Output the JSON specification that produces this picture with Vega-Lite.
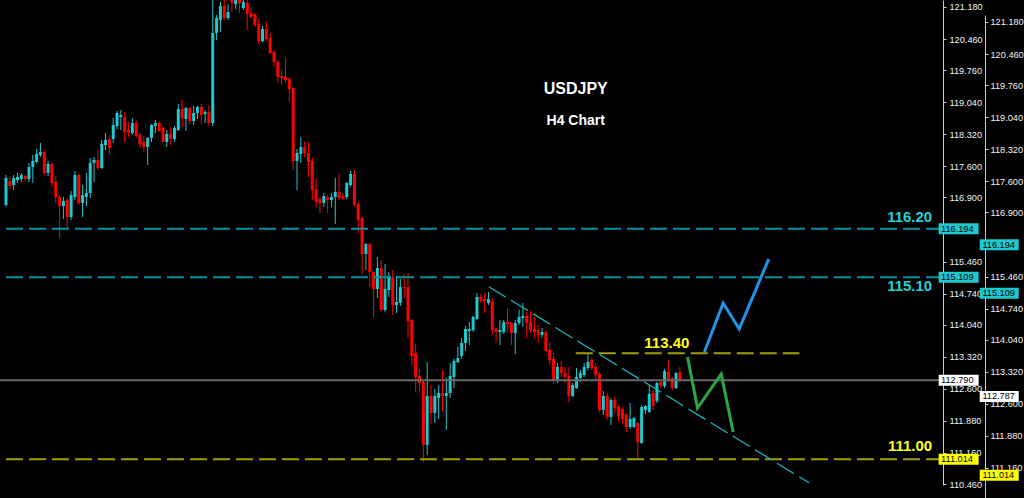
{
"$schema": "https://vega.github.io/schema/vega-lite/v6.json",
"width": 943, "height": 485,
"autosize": {"type": "none"},
"padding": {"left": 0, "top": 0, "right": 81, "bottom": 13},
"background": "#000000",
"config": {"view": {"stroke": null}},
"datasets": {
"candles": [
{"i":0,"o":116.731,"h":117.405,"l":116.686,"c":117.337},
{"i":1,"o":117.270,"h":117.360,"l":117.090,"c":117.157},
{"i":2,"o":117.180,"h":117.405,"l":117.067,"c":117.337},
{"i":3,"o":117.292,"h":117.450,"l":117.225,"c":117.360},
{"i":4,"o":117.315,"h":117.450,"l":117.247,"c":117.405},
{"i":5,"o":117.382,"h":117.405,"l":117.270,"c":117.315},
{"i":6,"o":117.315,"h":117.675,"l":117.247,"c":117.585},
{"i":7,"o":117.585,"h":117.854,"l":117.225,"c":117.720},
{"i":8,"o":117.697,"h":117.989,"l":117.675,"c":117.876},
{"i":9,"o":117.854,"h":118.124,"l":117.809,"c":117.921},
{"i":10,"o":117.921,"h":117.944,"l":117.405,"c":117.450},
{"i":11,"o":117.450,"h":117.720,"l":117.382,"c":117.652},
{"i":12,"o":117.652,"h":117.697,"l":117.135,"c":117.225},
{"i":13,"o":117.247,"h":117.382,"l":116.776,"c":116.910},
{"i":14,"o":116.910,"h":116.955,"l":115.989,"c":116.708},
{"i":15,"o":116.708,"h":116.910,"l":116.416,"c":116.821},
{"i":16,"o":116.843,"h":116.888,"l":116.213,"c":116.461},
{"i":17,"o":116.461,"h":117.045,"l":116.393,"c":116.955},
{"i":18,"o":116.910,"h":117.495,"l":116.843,"c":117.405},
{"i":19,"o":117.405,"h":117.427,"l":116.731,"c":116.776},
{"i":20,"o":116.776,"h":117.180,"l":116.461,"c":116.955},
{"i":21,"o":116.910,"h":117.450,"l":116.708,"c":117.000},
{"i":22,"o":117.000,"h":117.787,"l":116.888,"c":117.675},
{"i":23,"o":117.675,"h":117.809,"l":117.247,"c":117.742},
{"i":24,"o":117.742,"h":117.966,"l":117.517,"c":117.562},
{"i":25,"o":117.562,"h":118.191,"l":117.540,"c":118.101},
{"i":26,"o":118.079,"h":118.349,"l":117.966,"c":118.191},
{"i":27,"o":118.213,"h":118.304,"l":117.854,"c":118.011},
{"i":28,"o":118.214,"h":118.685,"l":118.124,"c":118.528},
{"i":29,"o":118.505,"h":118.843,"l":118.438,"c":118.798},
{"i":30,"o":118.708,"h":118.865,"l":118.416,"c":118.753},
{"i":31,"o":118.708,"h":118.820,"l":118.146,"c":118.371},
{"i":32,"o":118.416,"h":118.595,"l":118.259,"c":118.349},
{"i":33,"o":118.349,"h":118.685,"l":118.304,"c":118.573},
{"i":34,"o":118.573,"h":118.640,"l":118.259,"c":118.281},
{"i":35,"o":118.304,"h":118.349,"l":118.011,"c":118.101},
{"i":36,"o":118.146,"h":118.281,"l":117.921,"c":118.034},
{"i":37,"o":118.034,"h":118.259,"l":117.630,"c":118.236},
{"i":38,"o":118.236,"h":118.550,"l":118.146,"c":118.528},
{"i":39,"o":118.505,"h":118.640,"l":118.349,"c":118.573},
{"i":40,"o":118.573,"h":118.618,"l":118.371,"c":118.394},
{"i":41,"o":118.460,"h":118.505,"l":118.124,"c":118.146},
{"i":42,"o":118.146,"h":118.416,"l":118.034,"c":118.326},
{"i":43,"o":118.326,"h":118.483,"l":118.079,"c":118.214},
{"i":44,"o":118.214,"h":118.505,"l":118.146,"c":118.460},
{"i":45,"o":118.416,"h":119.000,"l":118.394,"c":118.888},
{"i":46,"o":118.888,"h":119.090,"l":118.483,"c":118.685},
{"i":47,"o":118.663,"h":118.933,"l":118.394,"c":118.910},
{"i":48,"o":118.910,"h":118.933,"l":118.550,"c":118.618},
{"i":49,"o":118.618,"h":118.955,"l":118.528,"c":118.798},
{"i":50,"o":118.798,"h":118.955,"l":118.663,"c":118.933},
{"i":51,"o":118.933,"h":119.000,"l":118.550,"c":118.753},
{"i":52,"o":118.775,"h":118.865,"l":118.573,"c":118.820},
{"i":53,"o":118.820,"h":118.978,"l":118.505,"c":118.573},
{"i":54,"o":118.573,"h":121.350,"l":118.505,"c":120.596},
{"i":55,"o":120.596,"h":121.000,"l":120.438,"c":120.932},
{"i":56,"o":120.887,"h":121.292,"l":120.619,"c":121.202},
{"i":57,"o":121.202,"h":121.337,"l":120.887,"c":120.932},
{"i":58,"o":120.932,"h":121.247,"l":120.887,"c":121.067},
{"i":59,"o":121.337,"h":121.450,"l":121.067,"c":121.270},
{"i":60,"o":121.247,"h":121.450,"l":121.135,"c":121.380},
{"i":61,"o":121.380,"h":121.420,"l":121.045,"c":121.270},
{"i":62,"o":121.157,"h":121.380,"l":121.112,"c":121.292},
{"i":63,"o":121.270,"h":121.337,"l":120.663,"c":121.022},
{"i":64,"o":121.045,"h":121.180,"l":120.932,"c":120.955},
{"i":65,"o":121.022,"h":121.045,"l":120.730,"c":120.775},
{"i":66,"o":120.798,"h":120.910,"l":120.348,"c":120.416},
{"i":67,"o":120.416,"h":120.753,"l":120.393,"c":120.685},
{"i":68,"o":120.685,"h":120.843,"l":120.416,"c":120.461},
{"i":69,"o":120.483,"h":120.596,"l":120.123,"c":120.146},
{"i":70,"o":120.168,"h":120.213,"l":119.832,"c":119.944},
{"i":71,"o":119.944,"h":119.989,"l":119.472,"c":119.607},
{"i":72,"o":119.629,"h":119.764,"l":119.427,"c":119.584},
{"i":73,"o":119.607,"h":120.033,"l":119.494,"c":119.539},
{"i":74,"o":119.562,"h":119.607,"l":119.045,"c":119.337},
{"i":75,"o":119.359,"h":119.382,"l":117.517,"c":117.720},
{"i":76,"o":117.720,"h":117.989,"l":117.067,"c":117.899},
{"i":77,"o":117.876,"h":118.259,"l":117.675,"c":118.034},
{"i":78,"o":118.034,"h":118.146,"l":117.809,"c":117.899},
{"i":79,"o":117.899,"h":118.146,"l":117.360,"c":117.697},
{"i":80,"o":117.720,"h":117.787,"l":116.843,"c":117.067},
{"i":81,"o":117.090,"h":117.337,"l":116.686,"c":116.798},
{"i":82,"o":116.865,"h":116.910,"l":116.551,"c":116.776},
{"i":83,"o":116.776,"h":117.000,"l":116.686,"c":116.932},
{"i":84,"o":116.910,"h":116.955,"l":116.551,"c":116.843},
{"i":85,"o":116.843,"h":117.000,"l":116.686,"c":116.910},
{"i":86,"o":116.910,"h":117.337,"l":116.303,"c":117.022},
{"i":87,"o":117.022,"h":117.450,"l":116.843,"c":116.887},
{"i":88,"o":116.932,"h":117.000,"l":116.843,"c":116.865},
{"i":89,"o":116.910,"h":117.247,"l":116.865,"c":117.225},
{"i":90,"o":117.180,"h":117.495,"l":117.135,"c":117.427},
{"i":91,"o":117.427,"h":117.517,"l":116.686,"c":116.731},
{"i":92,"o":116.753,"h":116.798,"l":116.102,"c":116.393},
{"i":93,"o":116.438,"h":116.461,"l":115.180,"c":115.629},
{"i":94,"o":115.629,"h":115.877,"l":115.270,"c":115.854},
{"i":95,"o":115.854,"h":115.877,"l":114.888,"c":115.225},
{"i":96,"o":115.225,"h":115.247,"l":114.214,"c":114.843},
{"i":97,"o":114.843,"h":115.562,"l":114.641,"c":115.314},
{"i":98,"o":115.314,"h":115.494,"l":114.326,"c":114.371},
{"i":99,"o":114.371,"h":115.404,"l":114.326,"c":114.843},
{"i":100,"o":114.820,"h":115.225,"l":114.663,"c":115.135},
{"i":101,"o":115.112,"h":115.270,"l":114.259,"c":114.484},
{"i":102,"o":114.484,"h":115.135,"l":114.304,"c":114.551},
{"i":103,"o":114.529,"h":115.067,"l":114.461,"c":114.888},
{"i":104,"o":114.888,"h":115.180,"l":114.641,"c":114.865},
{"i":105,"o":114.888,"h":115.202,"l":113.741,"c":114.124},
{"i":106,"o":114.146,"h":114.168,"l":113.135,"c":113.337},
{"i":107,"o":113.405,"h":113.607,"l":112.528,"c":112.866},
{"i":108,"o":112.888,"h":113.045,"l":112.551,"c":112.731},
{"i":109,"o":112.753,"h":112.798,"l":110.955,"c":111.338},
{"i":110,"o":111.338,"h":113.202,"l":111.113,"c":112.438},
{"i":111,"o":112.438,"h":112.686,"l":111.809,"c":112.057},
{"i":112,"o":112.057,"h":112.596,"l":111.832,"c":112.438},
{"i":113,"o":112.393,"h":112.686,"l":111.922,"c":112.506},
{"i":114,"o":112.506,"h":113.023,"l":112.079,"c":112.438},
{"i":115,"o":112.438,"h":112.843,"l":111.674,"c":112.506},
{"i":116,"o":112.506,"h":113.180,"l":112.393,"c":112.888},
{"i":117,"o":112.866,"h":113.270,"l":112.618,"c":113.225},
{"i":118,"o":113.202,"h":113.540,"l":113.180,"c":113.292},
{"i":119,"o":113.337,"h":113.741,"l":113.270,"c":113.630},
{"i":120,"o":113.630,"h":114.011,"l":113.450,"c":113.944},
{"i":121,"o":113.899,"h":114.101,"l":113.585,"c":113.944},
{"i":122,"o":113.921,"h":114.236,"l":113.876,"c":114.214},
{"i":123,"o":114.168,"h":114.753,"l":114.146,"c":114.663},
{"i":124,"o":114.663,"h":114.731,"l":114.529,"c":114.573},
{"i":125,"o":114.618,"h":114.753,"l":114.304,"c":114.573},
{"i":126,"o":114.529,"h":114.775,"l":114.484,"c":114.618},
{"i":127,"o":114.573,"h":114.641,"l":113.809,"c":113.921},
{"i":128,"o":113.944,"h":113.966,"l":113.630,"c":113.876},
{"i":129,"o":113.876,"h":114.146,"l":113.585,"c":113.921},
{"i":130,"o":113.876,"h":114.146,"l":113.831,"c":114.101},
{"i":131,"o":114.101,"h":114.416,"l":113.854,"c":114.056},
{"i":132,"o":114.079,"h":114.101,"l":113.585,"c":113.854},
{"i":133,"o":113.854,"h":114.146,"l":113.382,"c":114.079},
{"i":134,"o":114.079,"h":114.371,"l":114.034,"c":114.214},
{"i":135,"o":114.191,"h":114.529,"l":113.989,"c":114.236},
{"i":136,"o":114.236,"h":114.326,"l":113.741,"c":114.079},
{"i":137,"o":114.101,"h":114.349,"l":113.854,"c":113.921},
{"i":138,"o":113.944,"h":114.214,"l":113.741,"c":113.876},
{"i":139,"o":113.921,"h":114.034,"l":113.630,"c":113.809},
{"i":140,"o":113.809,"h":113.966,"l":113.741,"c":113.876},
{"i":141,"o":113.876,"h":113.921,"l":113.427,"c":113.450},
{"i":142,"o":113.472,"h":113.652,"l":113.135,"c":113.247},
{"i":143,"o":113.270,"h":113.405,"l":112.708,"c":112.776},
{"i":144,"o":112.776,"h":113.180,"l":112.731,"c":113.090},
{"i":145,"o":113.090,"h":113.225,"l":112.866,"c":112.955},
{"i":146,"o":112.955,"h":113.090,"l":112.731,"c":112.866},
{"i":147,"o":112.888,"h":113.090,"l":112.303,"c":112.438},
{"i":148,"o":112.438,"h":112.731,"l":112.416,"c":112.686},
{"i":149,"o":112.618,"h":113.068,"l":112.596,"c":112.866},
{"i":150,"o":112.843,"h":113.023,"l":112.753,"c":112.955},
{"i":151,"o":112.910,"h":113.180,"l":112.866,"c":113.090},
{"i":152,"o":113.068,"h":113.405,"l":113.023,"c":113.202},
{"i":153,"o":113.247,"h":113.292,"l":113.023,"c":113.068},
{"i":154,"o":113.090,"h":113.180,"l":112.798,"c":112.910},
{"i":155,"o":112.933,"h":112.978,"l":112.079,"c":112.124},
{"i":156,"o":112.124,"h":112.551,"l":112.012,"c":112.438},
{"i":157,"o":112.438,"h":112.506,"l":111.899,"c":111.967},
{"i":158,"o":111.967,"h":112.393,"l":111.787,"c":112.348},
{"i":159,"o":112.348,"h":112.416,"l":112.057,"c":112.169},
{"i":160,"o":112.191,"h":112.236,"l":111.854,"c":111.989},
{"i":161,"o":112.146,"h":112.191,"l":111.809,"c":111.922},
{"i":162,"o":112.012,"h":112.057,"l":111.629,"c":111.742},
{"i":163,"o":111.742,"h":112.281,"l":111.697,"c":111.922},
{"i":164,"o":111.742,"h":111.967,"l":111.719,"c":111.944},
{"i":165,"o":111.832,"h":111.854,"l":111.014,"c":111.405},
{"i":166,"o":111.383,"h":112.236,"l":111.360,"c":112.191},
{"i":167,"o":112.124,"h":112.236,"l":112.034,"c":112.214},
{"i":168,"o":112.079,"h":112.686,"l":112.057,"c":112.483},
{"i":169,"o":112.506,"h":112.573,"l":112.124,"c":112.214},
{"i":170,"o":112.326,"h":112.753,"l":112.281,"c":112.731},
{"i":171,"o":112.753,"h":112.798,"l":112.618,"c":112.663},
{"i":172,"o":112.663,"h":113.045,"l":112.618,"c":113.000},
{"i":173,"o":112.978,"h":113.247,"l":112.753,"c":112.798},
{"i":174,"o":112.843,"h":112.866,"l":112.573,"c":112.618},
{"i":175,"o":112.618,"h":112.978,"l":112.596,"c":112.955},
{"i":176,"o":112.978,"h":113.090,"l":112.753,"c":112.790}
],
"tags": [
{"price":116.194,"label":"116.194","role":"resistance"},
{"price":115.109,"label":"115.109","role":"resistance"},
{"price":112.790,"label":"112.790","role":"current"},
{"price":111.014,"label":"111.014","role":"support"}
],
"tags2": [
{"price":116.194,"label":"116.194","role":"resistance"},
{"price":115.109,"label":"115.109","role":"resistance"},
{"price":112.787,"label":"112.787","role":"current"},
{"price":111.014,"label":"111.014","role":"support"}
]
},
"resolve": {"axis": {"y": "independent"}},
"layer": [
{
"data": {"name": "candles"},
"mark": {"type": "rule", "clip": true, "strokeWidth": 1},
"encoding": {
"x": {"field": "i", "type": "quantitative", "scale": {"domain": [-0.258, 243.41], "nice": false, "zero": false},
 "axis": {"orient": "bottom", "domainColor": "#c8c8c8", "domainWidth": 1, "ticks": false, "labels": false, "title": null, "grid": false}},
"y": {"field": "l", "type": "quantitative", "scale": {"domain": [110.438, 121.337], "nice": false, "zero": false},
 "axis": {"orient": "right", "values": [121.18,120.46,119.76,119.04,118.32,117.6,116.9,115.46,114.74,114.04,113.32,112.6,111.88,111.16,110.46],
  "format": ".3f", "title": null, "grid": false, "domainColor": "#c8c8c8", "domainWidth": 1, "tickColor": "#c8c8c8", "tickSize": 3,
  "labelColor": "#f2f2f2", "labelFont": "Liberation Sans", "labelFontSize": 9.2, "labelPadding": 3, "labelOverlap": false, "labelBaseline": "middle", "labelFlush": false}},
"y2": {"field": "h"},
"color": {"condition": {"test": "datum.c >= datum.o", "value": "#1ec8cf"}, "value": "#ff0000"}
}
},
{
"data": {"name": "candles"},
"mark": {"type": "bar", "size": 3, "clip": true},
"encoding": {
"x": {"field": "i", "type": "quantitative", "scale": {"domain": [-0.258, 243.41], "nice": false, "zero": false}, "axis": null},
"y": {"field": "o", "type": "quantitative", "scale": {"domain": [110.438, 121.337], "nice": false, "zero": false}, "axis": null},
"y2": {"field": "c"},
"color": {"condition": {"test": "datum.c >= datum.o", "value": "#1ec8cf"}, "value": "#ff0000"}
}
},
{
"data": {"values": [{"price": 116.194}, {"price": 115.109}]},
"mark": {"type": "rule", "color": "#00959e", "strokeWidth": 2, "strokeDash": [17, 6]},
"encoding": {
"y": {"field": "price", "type": "quantitative", "scale": {"domain": [110.438, 121.337], "nice": false, "zero": false}, "axis": null}
}
},
{
"data": {"values": [{"price": 111.014}]},
"mark": {"type": "rule", "color": "#a0a000", "strokeWidth": 2, "strokeDash": [17, 6]},
"encoding": {
"y": {"field": "price", "type": "quantitative", "scale": {"domain": [110.438, 121.337], "nice": false, "zero": false}, "axis": null}
}
},
{
"data": {"values": [{"start": 148.8, "end": 207.2, "price": 113.40}]},
"mark": {"type": "rule", "color": "#a0a000", "strokeWidth": 2, "strokeDash": [17, 6]},
"encoding": {
"x": {"field": "start", "type": "quantitative", "scale": {"domain": [-0.258, 243.41], "nice": false, "zero": false}, "axis": null},
"x2": {"field": "end"},
"y": {"field": "price", "type": "quantitative", "scale": {"domain": [110.438, 121.337], "nice": false, "zero": false}, "axis": null}
}
},
{
"data": {"values": [{"price": 112.79}]},
"mark": {"type": "rule", "color": "#6a6a6a", "strokeWidth": 2},
"encoding": {
"y": {"field": "price", "type": "quantitative", "scale": {"domain": [110.438, 121.337], "nice": false, "zero": false}, "axis": null}
}
},
{
"data": {"values": [{"i": 126.1, "price": 114.894}, {"i": 209.8, "price": 110.483}]},
"mark": {"type": "line", "color": "#1fb8c2", "strokeWidth": 1.2, "strokeDash": [20, 6]},
"encoding": {
"x": {"field": "i", "type": "quantitative", "scale": {"domain": [-0.258, 243.41], "nice": false, "zero": false}, "axis": null},
"y": {"field": "price", "type": "quantitative", "scale": {"domain": [110.438, 121.337], "nice": false, "zero": false}, "axis": null}
}
},
{
"data": {"values": [{"step": 1, "i": 182.4, "price": 113.427}, {"step": 2, "i": 187.3, "price": 114.528}, {"step": 3, "i": 191.5, "price": 113.944}, {"step": 4, "i": 199.2, "price": 115.517}]},
"mark": {"type": "line", "color": "#1e96e6", "strokeWidth": 3},
"encoding": {
"x": {"field": "i", "type": "quantitative", "scale": {"domain": [-0.258, 243.41], "nice": false, "zero": false}, "axis": null},
"y": {"field": "price", "type": "quantitative", "scale": {"domain": [110.438, 121.337], "nice": false, "zero": false}, "axis": null},
"order": {"field": "step"}
}
},
{
"data": {"values": [{"step": 1, "i": 178.0, "price": 113.315}, {"step": 2, "i": 180.6, "price": 112.168}, {"step": 3, "i": 186.8, "price": 112.933}, {"step": 4, "i": 189.9, "price": 111.629}]},
"mark": {"type": "line", "color": "#2aa845", "strokeWidth": 3},
"encoding": {
"x": {"field": "i", "type": "quantitative", "scale": {"domain": [-0.258, 243.41], "nice": false, "zero": false}, "axis": null},
"y": {"field": "price", "type": "quantitative", "scale": {"domain": [110.438, 121.337], "nice": false, "zero": false}, "axis": null},
"order": {"field": "step"}
}
},
{
"data": {"values": [{"label": "116.20", "i": 241.9, "price": 116.461}, {"label": "115.10", "i": 241.9, "price": 114.910}]},
"mark": {"type": "text", "align": "right", "baseline": "middle", "font": "Liberation Sans", "fontWeight": "bold", "fontSize": 15, "color": "#22d0d8"},
"encoding": {
"x": {"field": "i", "type": "quantitative", "scale": {"domain": [-0.258, 243.41], "nice": false, "zero": false}, "axis": null},
"y": {"field": "price", "type": "quantitative", "scale": {"domain": [110.438, 121.337], "nice": false, "zero": false}, "axis": null},
"text": {"field": "label"}
}
},
{
"data": {"values": [{"label": "111.00", "i": 241.9, "price": 111.315}]},
"mark": {"type": "text", "align": "right", "baseline": "middle", "font": "Liberation Sans", "fontWeight": "bold", "fontSize": 15, "color": "#ffff1a"},
"encoding": {
"x": {"field": "i", "type": "quantitative", "scale": {"domain": [-0.258, 243.41], "nice": false, "zero": false}, "axis": null},
"y": {"field": "price", "type": "quantitative", "scale": {"domain": [110.438, 121.337], "nice": false, "zero": false}, "axis": null},
"text": {"field": "label"}
}
},
{
"data": {"values": [{"label": "113.40", "i": 172.6, "price": 113.629}]},
"mark": {"type": "text", "align": "center", "baseline": "middle", "font": "Liberation Sans", "fontWeight": "bold", "fontSize": 15, "color": "#ffff1a"},
"encoding": {
"x": {"field": "i", "type": "quantitative", "scale": {"domain": [-0.258, 243.41], "nice": false, "zero": false}, "axis": null},
"y": {"field": "price", "type": "quantitative", "scale": {"domain": [110.438, 121.337], "nice": false, "zero": false}, "axis": null},
"text": {"field": "label"}
}
},
{
"data": {"values": [{"label": "USDJPY", "i": 148.8, "price": 119.337}]},
"mark": {"type": "text", "align": "center", "baseline": "middle", "font": "Liberation Sans", "fontWeight": "bold", "fontSize": 16, "color": "#ffffff"},
"encoding": {
"x": {"field": "i", "type": "quantitative", "scale": {"domain": [-0.258, 243.41], "nice": false, "zero": false}, "axis": null},
"y": {"field": "price", "type": "quantitative", "scale": {"domain": [110.438, 121.337], "nice": false, "zero": false}, "axis": null},
"text": {"field": "label"}
}
},
{
"data": {"values": [{"label": "H4 Chart", "i": 148.8, "price": 118.618}]},
"mark": {"type": "text", "align": "center", "baseline": "middle", "font": "Liberation Sans", "fontWeight": "bold", "fontSize": 14, "color": "#ffffff"},
"encoding": {
"x": {"field": "i", "type": "quantitative", "scale": {"domain": [-0.258, 243.41], "nice": false, "zero": false}, "axis": null},
"y": {"field": "price", "type": "quantitative", "scale": {"domain": [110.438, 121.337], "nice": false, "zero": false}, "axis": null},
"text": {"field": "label"}
}
},
{
"data": {"name": "tags"},
"mark": {"type": "tick", "orient": "horizontal", "size": 40, "thickness": 11, "clip": false, "opacity": 1},
"encoding": {
"x": {"datum": 248.8, "type": "quantitative", "scale": {"domain": [-0.258, 243.41], "nice": false, "zero": false}, "axis": null},
"y": {"field": "price", "type": "quantitative", "scale": {"domain": [110.438, 121.337], "nice": false, "zero": false}, "axis": null},
"color": {"condition": [{"test": "datum.role === 'resistance'", "value": "#1ec8cf"}, {"test": "datum.role === 'current'", "value": "#ffffff"}], "value": "#ffff00"}
}
},
{
"data": {"name": "tags"},
"mark": {"type": "text", "align": "left", "baseline": "middle", "font": "Liberation Sans", "fontSize": 9.2, "color": "#000000", "clip": false},
"encoding": {
"x": {"datum": 244.2, "type": "quantitative", "scale": {"domain": [-0.258, 243.41], "nice": false, "zero": false}, "axis": null},
"y": {"field": "price", "type": "quantitative", "scale": {"domain": [110.438, 121.337], "nice": false, "zero": false}, "axis": null},
"text": {"field": "label"}
}
},
{
"data": {"name": "tags2"},
"mark": {"type": "tick", "orient": "horizontal", "size": 39, "thickness": 11, "clip": false, "opacity": 1, "yOffset": 16},
"encoding": {
"x": {"datum": 259.4, "type": "quantitative", "scale": {"domain": [-0.258, 243.41], "nice": false, "zero": false}, "axis": null},
"y": {"field": "price", "type": "quantitative", "scale": {"domain": [110.438, 121.337], "nice": false, "zero": false},
 "axis": {"orient": "right", "offset": 42, "position": 15, "values": [121.18,120.46,119.76,119.04,118.32,117.6,116.9,115.46,114.74,114.04,113.32,112.6,111.88,111.16],
  "format": ".3f", "title": null, "grid": false, "domainColor": "#c8c8c8", "domainWidth": 1, "tickColor": "#c8c8c8", "tickSize": 3,
  "labelColor": "#f2f2f2", "labelFont": "Liberation Sans", "labelFontSize": 9.2, "labelPadding": 2, "labelOverlap": false, "labelBaseline": "middle", "labelFlush": false}},
"color": {"condition": [{"test": "datum.role === 'resistance'", "value": "#1ec8cf"}, {"test": "datum.role === 'current'", "value": "#ffffff"}], "value": "#ffff00"}
}
},
{
"data": {"name": "tags2"},
"mark": {"type": "text", "align": "left", "baseline": "middle", "font": "Liberation Sans", "fontSize": 9.2, "color": "#000000", "clip": false, "yOffset": 16},
"encoding": {
"x": {"datum": 255.0, "type": "quantitative", "scale": {"domain": [-0.258, 243.41], "nice": false, "zero": false}, "axis": null},
"y": {"field": "price", "type": "quantitative", "scale": {"domain": [110.438, 121.337], "nice": false, "zero": false}, "axis": null},
"text": {"field": "label"}
}
}
]
}
